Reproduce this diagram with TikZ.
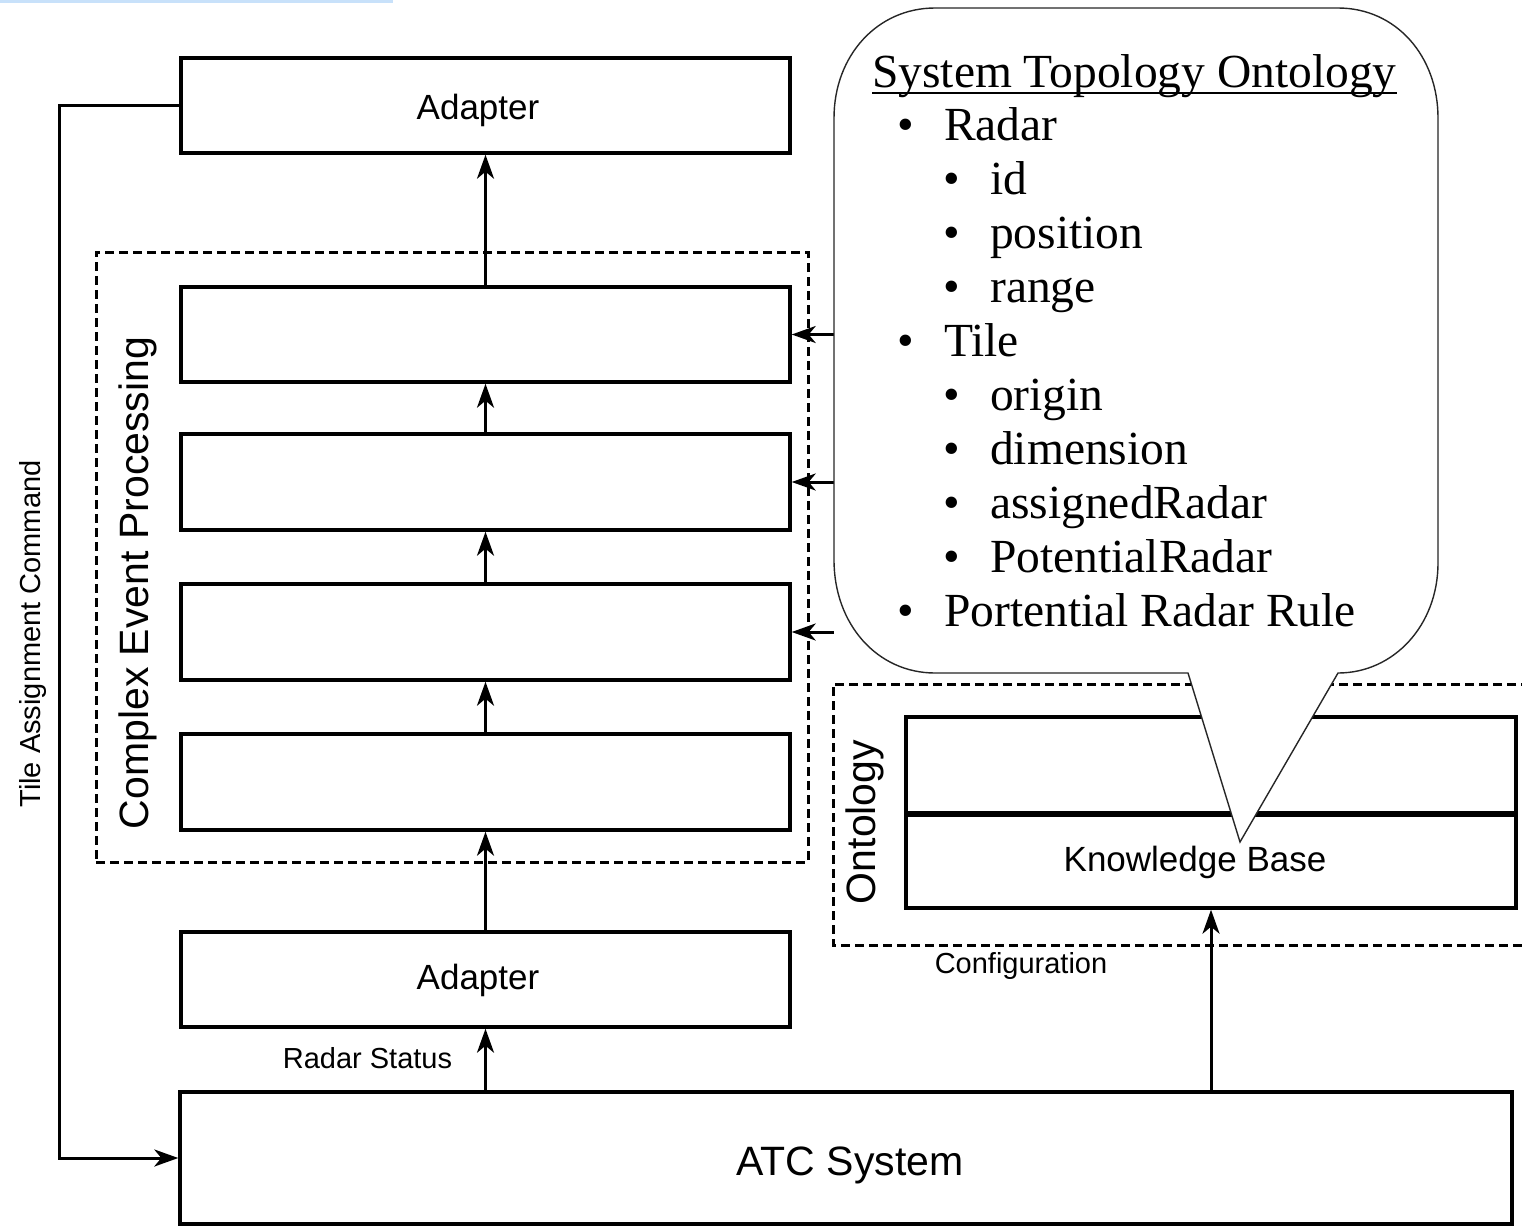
\documentclass[tikz,border=0pt]{standalone}
\usepackage{fontspec}
\setmainfont{Liberation Serif}
\setsansfont{Liberation Sans}
\usetikzlibrary{arrows.meta}
\definecolor{topbar}{RGB}{200,225,250}

\begin{document}
\begin{tikzpicture}[x=1pt,y=-1pt,
  block/.style={draw, line width=3.4pt, minimum width=609, minimum height=95, inner sep=0},
  group/.style={draw, line width=3pt, dash pattern=on 9pt off 5pt},
  arr/.style={line width=3pt, -{Stealth[length=24pt,width=17pt,inset=7pt]}},
  mid/.style={inner sep=0, font=\sffamily\fontsize{35}{42}\selectfont},
  small/.style={inner sep=0, font=\sffamily\fontsize{29}{35}\selectfont},
  big/.style={inner sep=0, font=\sffamily\fontsize{41}{49}\selectfont},
  ctext/.style={inner sep=0, anchor=base west, font=\fontsize{47.5}{57}\selectfont},
  cbullet/.style={inner sep=0, anchor=base, font=\fontsize{47.5}{57}\selectfont},
  calloutline/.style={draw=black!85, line width=1.4pt, fill=white}]
\useasboundingbox (0,0) rectangle (1522,1226);

% thin bar along the top edge
\fill[topbar] (0,0) rectangle (393,2.5);

% processing chain
\node[block] (adTop) at (485.5,105.5) {};
\node[mid] (adTopText) at (478,110) {Adapter};
\node[group, minimum width=712, minimum height=610, inner sep=0] (cepgroup) at (452,557) {};
\node[block] (cep1) at (485.5,334.5) {};
\node[block, minimum height=96] (cep2) at (485.5,482) {};
\node[block, minimum height=96] (cep3) at (485.5,632) {};
\node[block, minimum height=96] (cep4) at (485.5,782) {};
\node[block] (adBot) at (485.5,979.5) {};
\node[mid] (adBotText) at (478,980) {Adapter};
\node[block, minimum width=1332, minimum height=132] (atc) at (846,1158) {};
\node[big] (atcText) at (850,1165) {ATC System};

\node[big, rotate=90] (ceplabel) at (138,583) {Complex Event Processing};

% ontology group
\draw[group] (1530,684) -- (833,684) -- (833,945) -- (1530,945);
\node[block, minimum width=610, minimum height=96] (ontTop) at (1211,765) {};
\node[block, minimum width=610] (kb) at (1211,860.5) {};
\node[mid] (kbText) at (1195,862) {Knowledge Base};
\draw[line width=4.4pt] (ontTop.south west) -- (ontTop.south east);
\node[big, rotate=90] (ontlabel) at (865,822) {Ontology};

% flows
\draw[arr] (cep1.north) -- (adTop.south);
\draw[arr] (cep2.north) -- (cep1.south);
\draw[arr] (cep3.north) -- (cep2.south);
\draw[arr] (cep4.north) -- (cep3.south);
\draw[arr] (adBot.north) -- (cep4.south);
\draw[arr] (adBot.south |- atc.north) -- (adBot.south);
\draw[arr] (kb.south |- atc.north) -- (kb.south);
\draw[arr] (adTop.west) -- (59,105.5) |- (atc.west);

\node[small] (radarstatus) at (367.5,1058) {Radar Status};
\node[small] (config) at (1021,966) {Configuration};
\node[small, rotate=90] (tilecmd) at (33,634) {Tile Assignment Command};

% callout body (frame) and links into the event processing stages
\node[minimum width=604, minimum height=665, inner sep=0] (callout) at (1136,340.5) {};
\draw[arr] (callout.west |- cep1.east) -- (cep1.east);
\draw[arr] (callout.west |- cep2.east) -- (cep2.east);
\draw[arr] (callout.west |- cep3.east) -- (cep3.east);

\draw[calloutline] (1188,673) -- (935,673)
  .. controls (877,673) and (834,624) .. (834,560) -- (834,118)
  .. controls (834,56) and (877,8) .. (935,8) -- (1338,8)
  .. controls (1396,8) and (1438,56) .. (1438,118) -- (1438,563)
  .. controls (1438,625) and (1394,673) .. (1338,673)
  -- (1240,842) -- cycle;

\node[ctext] (title) at (872,87) {System Topology Ontology};
\draw[line width=2pt] ([yshift=-6pt]title.base west) -- ([yshift=-6pt]title.base east);

\node[cbullet] (b1) at (906,140) {\textbullet};  \node[ctext] (t1) at (944,140) {Radar};
\node[cbullet] (b2) at (952,194) {\textbullet};  \node[ctext] (t2) at (990,194) {id};
\node[cbullet] (b3) at (952,248) {\textbullet};  \node[ctext] (t3) at (990,248) {position};
\node[cbullet] (b4) at (952,302) {\textbullet};  \node[ctext] (t4) at (990,302) {range};
\node[cbullet] (b5) at (906,356) {\textbullet};  \node[ctext] (t5) at (944,356) {Tile};
\node[cbullet] (b6) at (952,410) {\textbullet};  \node[ctext] (t6) at (990,410) {origin};
\node[cbullet] (b7) at (952,464) {\textbullet};  \node[ctext] (t7) at (990,464) {dimension};
\node[cbullet] (b8) at (952,518) {\textbullet};  \node[ctext] (t8) at (990,518) {assignedRadar};
\node[cbullet] (b9) at (952,572) {\textbullet};  \node[ctext] (t9) at (990,572) {PotentialRadar};
\node[cbullet] (b10) at (906,626) {\textbullet}; \node[ctext] (t10) at (944,626) {Portential Radar Rule};
\end{tikzpicture}
\end{document}
